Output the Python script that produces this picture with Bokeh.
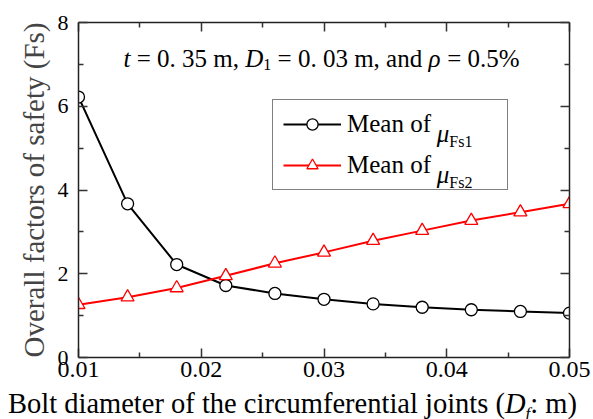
from bokeh.plotting import figure
from bokeh.layouts import column
from bokeh.models import (LinearAxis, Label, Legend, LegendItem, Range1d, FixedTicker, Div)
from bokeh.embed import file_html
from bokeh.resources import INLINE

# ---------------- data ----------------
bolt_diameter = [0.010, 0.014, 0.018, 0.022, 0.026, 0.030, 0.034, 0.038, 0.042, 0.046, 0.050]
mean_fs1 = [6.22, 3.67, 2.22, 1.72, 1.53, 1.39, 1.28, 1.20, 1.14, 1.10, 1.06]
mean_fs2 = [1.26, 1.44, 1.66, 1.95, 2.25, 2.51, 2.79, 3.03, 3.27, 3.47, 3.67]

x_major = [0.01, 0.02, 0.03, 0.04, 0.05]
x_minor = [0.015, 0.025, 0.035, 0.045]
x_tick_labels = ["0.01", "0.02", "0.03", "0.04", "0.05"]
y_major = [0, 2, 4, 6, 8]
y_minor = [1, 3, 5, 7]
y_tick_labels = ["0", "2", "4", "6", "8"]

x_lo, x_hi = 0.01, 0.05
y_lo, y_hi = 0, 8

FONT = "Liberation Serif"
# frame geometry (canvas px)
FL, FT, FR, FB = 78, 22, 569, 357
PLOT_H = 388

p = figure(width=593, height=PLOT_H, output_backend="svg", toolbar_location=None,
           x_range=Range1d(x_lo, x_hi), y_range=Range1d(y_lo, y_hi),
           x_axis_location=None, y_axis_location=None,
           min_border_left=FL, min_border_right=593 - FR,
           min_border_top=FT, min_border_bottom=PLOT_H - FB)
p.grid.visible = False
p.outline_line_color = None
p.background_fill_color = "white"
p.border_fill_color = "white"


def style_axis(ax, ticks, minor, labels, size, font):
    ax.ticker = FixedTicker(ticks=ticks, minor_ticks=minor)
    ax.axis_line_width = 1.5
    ax.axis_line_color = "#222222"
    ax.major_tick_in = 9
    ax.major_tick_out = 0
    ax.minor_tick_in = 5
    ax.minor_tick_out = 0
    ax.major_tick_line_width = 1.5
    ax.minor_tick_line_width = 1.5
    ax.major_tick_line_color = "#333333"
    ax.minor_tick_line_color = "#333333"
    ax.major_label_text_font = font
    if labels is None:
        ax.major_label_text_font_size = "2px"
        ax.major_label_text_color = None
        ax.major_label_standoff = 0
    else:
        ax.major_label_text_color = "black"
        ax.major_label_overrides = {t: l for t, l in zip(ticks, labels)}
        ax.major_label_text_font_size = size


xb = LinearAxis()
style_axis(xb, x_major, x_minor, x_tick_labels, "24px", FONT)
xb.major_label_standoff = 4
p.add_layout(xb, "below")

xt = LinearAxis()
style_axis(xt, x_major, x_minor, None, None, FONT)
p.add_layout(xt, "above")

yl = LinearAxis(axis_label="Overall factors of safety (Fs)")
style_axis(yl, y_major, y_minor, y_tick_labels, "22px", FONT)
yl.major_label_standoff = 10
yl.axis_label_text_font = FONT
yl.axis_label_text_font_size = "29px"
yl.axis_label_text_font_style = "normal"
yl.axis_label_standoff = 5
p.add_layout(yl, "left")

yr = LinearAxis()
style_axis(yr, y_major, y_minor, None, None, FONT)
p.add_layout(yr, "right")

# ---------------- series ----------------
r1l = p.line(bolt_diameter, mean_fs1, line_color="black", line_width=2)
r1m = p.scatter(bolt_diameter, mean_fs1, marker="circle", size=12,
                fill_color="white", line_color="black", line_width=1.3)
r2l = p.line(bolt_diameter, mean_fs2, line_color="red", line_width=2)
r2m = p.scatter(bolt_diameter, mean_fs2, marker="triangle", size=13,
                fill_color="white", line_color="red", line_width=1.3)

# ---------------- legend ----------------
LEG_LEFT, LEG_TOP, LEG_H = 272, 101, 89
legend = Legend(items=[LegendItem(label="Mean of", renderers=[r1l, r1m]),
                       LegendItem(label="Mean of", renderers=[r2l, r2m])],
                location=(LEG_LEFT - FL, FB - (LEG_TOP + LEG_H)),
                padding=10, spacing=13, margin=0,
                glyph_width=58, glyph_height=28, label_height=28,
                label_width=150, label_standoff=6,
                border_line_color="black", border_line_width=1.5,
                background_fill_alpha=0.0,
                label_text_font=FONT, label_text_font_size="25px",
                label_text_color="black")
p.add_layout(legend, "center")

# ---------------- rich text helper ----------------
W_REG = {' ': 250, '=': 564, '.': 250, ',': 250, 'm': 778, 'a': 444, 'n': 500,
         'd': 500, '%': 833, 'B': 667, 'o': 500, 'l': 278, 't': 278, 'i': 278,
         'e': 444, 'r': 333, 'f': 333, 'h': 500, 'c': 444, 'u': 500, 'j': 278,
         's': 389, '(': 333, ')': 333, ':': 278, 'M': 889, 'F': 556}
W_ITA = {'t': 278, 'D': 722, 'f': 278, 'ρ': 500, 'μ': 500}


def adv(text, size, italic):
    table = W_ITA if italic else W_REG
    return sum(table.get(ch, 500) for ch in text) * size / 1000.0


def rich(pieces, cx, cy, font):
    """pieces: (text, size, italic, drop) ; cx, cy canvas start/baseline."""
    for text, size, italic, drop in pieces:
        lead = len(text) - len(text.lstrip(" "))
        shown = text.strip(" ")
        sx = cx + adv(" " * lead, size, False)
        p.add_layout(Label(x=x_lo, y=y_hi, x_units="data", y_units="data",
                           x_offset=sx - FL, y_offset=-(cy + drop - FT),
                           text=shown, text_font=font,
                           text_font_size=f"{size}px",
                           text_font_style="italic" if italic else "normal",
                           text_baseline="alphabetic", text_align="left",
                           text_color="black", level="overlay"))
        cx += adv(text, size, italic)


# annotation line
rich([("t", 25, True, 0), (" = 0. 35 m, ", 25, False, 0), ("D", 25, True, 0),
      ("1", 16, False, 6), (" = 0. 03 m, and ", 25, False, 0), ("ρ", 25, True, 0),
      (" = 0.5%", 25, False, 0)], 123, 58, FONT)

# legend mu subscripts
text_x = LEG_LEFT + 10 + 58 + 6 + adv("Mean of ", 25, False)
rich([("μ", 25, True, 0), ("Fs1", 16, False, 8)], text_x, 133, FONT)
rich([("μ", 25, True, 0), ("Fs2", 16, False, 8)], text_x, 174, FONT)

# x-axis title as HTML below the plot
x_title = Div(text='Bolt diameter of the circumferential joints (<i>D</i>'
                   '<sub style="font-size:17px;vertical-align:-6px;"><i>f</i></sub>: m)',
              width=593, height=419 - PLOT_H, margin=(0, 0, 0, 0),
              styles={"font-family": "'Liberation Serif', 'Times New Roman', serif",
                      "font-size": "28.5px", "line-height": "31px",
                      "padding-left": "8px", "white-space": "nowrap",
                      "color": "black"})

layout = column(p, x_title, spacing=0)
open("out.html", "w").write(file_html(layout, INLINE))
